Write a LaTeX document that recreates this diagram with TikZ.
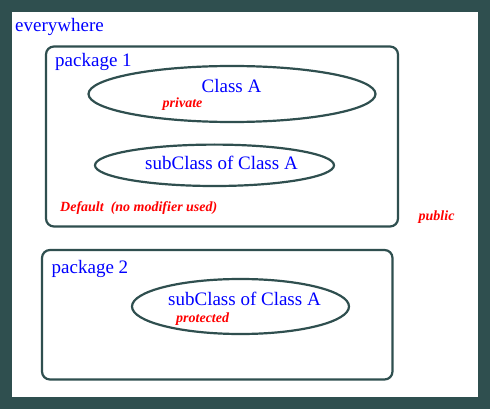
\documentclass[tikz,border=0pt]{standalone}
\usepackage{fontspec}
\setmainfont{Liberation Serif}
\definecolor{slate}{HTML}{2F4F4F}
\definecolor{tblue}{HTML}{0000FF}
\definecolor{tred}{HTML}{FF0000}
\tikzset{
  frame/.style={draw=slate, line width=2.2pt, rounded corners=8pt},
  classell/.style={draw=slate, line width=2.2pt},
  bluetxt/.style={text=tblue, font=\fontsize{19}{22}\selectfont, inner sep=0pt, anchor=base west},
  redtxt/.style={text=tred, font=\fontsize{14}{16}\selectfont\bfseries\itshape, inner sep=0pt, anchor=base west}
}
\begin{document}
\begin{tikzpicture}[x=1pt,y=-1pt]
\useasboundingbox (0,0) rectangle (490,409);
\fill[slate] (0,0) rectangle (490,409);
\fill[white] (12,12) rectangle (478,397);
% package frames
\draw[frame] (46,46.5) rectangle (398,226.5);
\draw[frame] (42,250) rectangle (392.5,379.5);
% class ellipses
\draw[classell] (232,94) ellipse [x radius=143.5, y radius=28];
\draw[classell] (214.5,165.3) ellipse [x radius=119.5, y radius=20.7];
\draw[classell] (240.5,306.5) ellipse [x radius=108.5, y radius=27.5];
% texts
\node[bluetxt] (every) at (15,31.5) {everywhere};
\node[bluetxt] (pk1) at (55,66.5) {package 1};
\node[bluetxt] (ca) at (201.5,92.5) {Class A};
\node[redtxt] (priv) at (162.5,108) {private};
\node[bluetxt] (sub1) at (145,169.3) {subClass of Class A};
\node[redtxt] (def) at (60,211.5) {Default\ \ (no modifier used)};
\node[redtxt] (pub) at (418.5,220.5) {public};
\node[bluetxt] (pk2) at (51.5,273.3) {package 2};
\node[bluetxt] (sub2) at (168,305) {subClass of Class A};
\node[redtxt] (prot) at (176,322.5) {protected};
\end{tikzpicture}
\end{document}
